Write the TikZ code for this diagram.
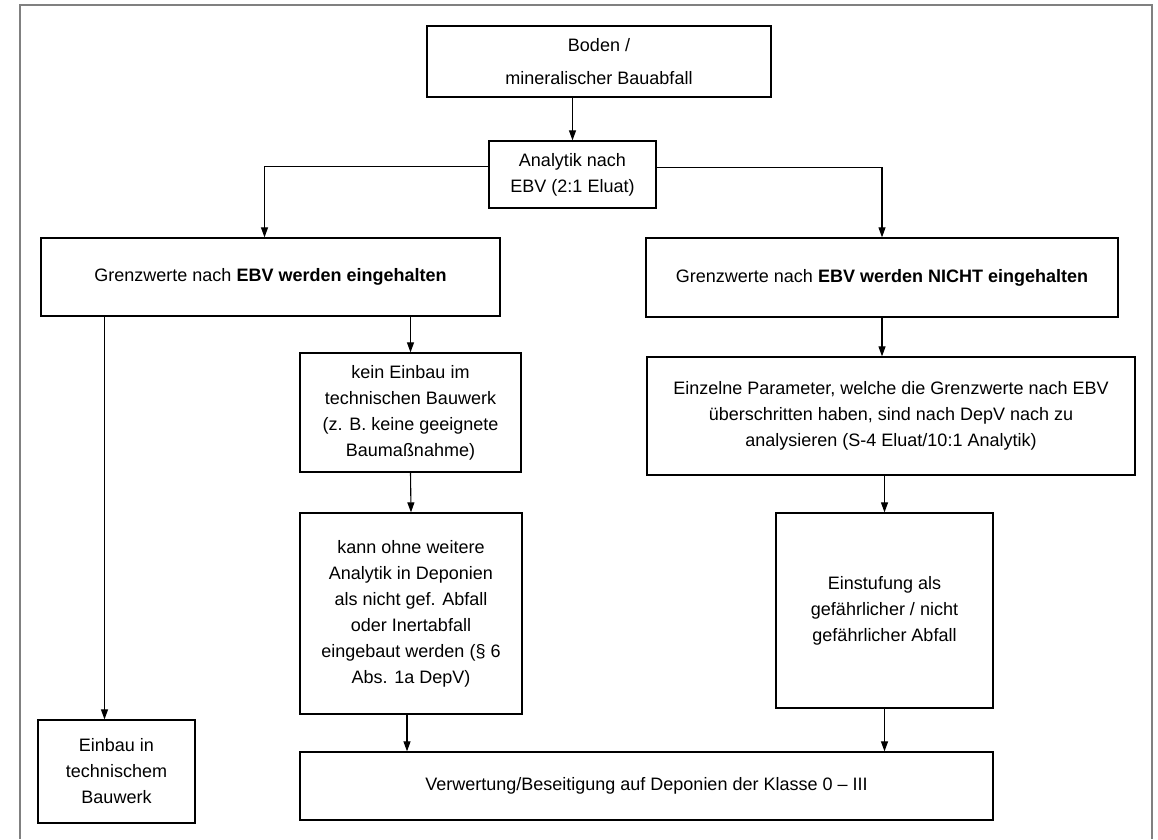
\documentclass[tikz,border=0pt]{standalone}
\usepackage{fontspec}
\setmainfont{Liberation Sans}
\usetikzlibrary{arrows.meta}
\newcommand{\boxfont}{\fontsize{18}{26}\selectfont}

\begin{document}
\begin{tikzpicture}[x=1pt,y=-1pt,
    box/.style={draw,line width=1.3pt,inner sep=0pt,align=center,font=\boxfont},
    arr/.style={-{Triangle[length=10pt,width=7pt]},line width=1.1pt}]

   % Frame
   \useasboundingbox (0,0) rectangle (1158,839);
   \draw[line width=2.5pt,gray,line join=miter] (20,839) -- (20,5) -- (1152,5) -- (1152,839);

   % Top boxes
   \node[box,minimum width=344pt,minimum height=71pt] (boden) at (599,61.5)
        {Boden /\\[7pt] mineralischer Bauabfall};
   \node[box,minimum width=167pt,minimum height=67pt] (analytik) at (572.5,174.5)
        {Analytik nach\\ EBV (2:1 Eluat)};

   % Limits kept / not kept
   \node[box,minimum width=459pt,minimum height=78pt] (grenzok) at (270.5,277)
        {Grenzwerte nach \textbf{EBV werden eingehalten}};
   \node[box,minimum width=472pt,minimum height=79pt] (grenznicht) at (882,277.5)
        {Grenzwerte nach \textbf{EBV werden NICHT eingehalten}};

   % Left branch
   \node[box,minimum width=221pt,minimum height=119pt] (kein) at (410.5,412.5)
        {kein Einbau im\\ technischen Bauwerk\\ (z. B. keine geeignete\\ Baumaßnahme)};
   \node[box,minimum width=222pt,minimum height=201pt] (kann) at (411,613.5)
        {kann ohne weitere\\ Analytik in Deponien\\ als nicht gef. Abfall\\ oder Inertabfall\\
         eingebaut werden (§ 6\\ Abs. 1a DepV)};
   \node[box,minimum width=157pt,minimum height=103pt] (einbau) at (116.5,771.5)
        {Einbau in\\ technischem\\ Bauwerk};

   % Right branch
   \node[box,minimum width=488pt,minimum height=118pt] (einzelne) at (891,416)
        {Einzelne Parameter, welche die Grenzwerte nach EBV\\
         überschritten haben, sind nach DepV nach zu\\ analysieren (S-4 Eluat/10:1 Analytik)};
   \node[box,minimum width=217pt,minimum height=195pt] (einstufung) at (884.5,610.5)
        {Einstufung als\\ gefährlicher / nicht\\ gefährlicher Abfall};

   % Bottom
   \node[box,minimum width=693pt,minimum height=68pt] (verw) at (646.5,786)
        {Verwertung/Beseitigung auf Deponien der Klasse 0 – III};

   % Connectors
   \draw[arr] (boden.south -| analytik.north) -- (analytik.north);
   \draw[arr] ([yshift=8pt]analytik.west) -| ([xshift=-6pt]grenzok.north);
   \draw[arr] ([yshift=7pt]analytik.east) -| (grenznicht.north);
   \draw[arr] ([xshift=-12pt]einbau.north |- grenzok.south) -- ([xshift=-12pt]einbau.north);
   \draw[arr] (kein.north |- grenzok.south) -- (kein.north);
   \draw[arr] (kein.south) -- (kann.north);
   \draw[arr] ([xshift=-4pt]kann.south) -- ([xshift=-4pt]kann.south |- verw.north);
   \draw[arr] (grenznicht.south) -- (grenznicht.south |- einzelne.north);
   \draw[arr] (einstufung.north |- einzelne.south) -- (einstufung.north);
   \draw[arr] (einstufung.south) -- (einstufung.south |- verw.north);

\end{tikzpicture}
\end{document}
